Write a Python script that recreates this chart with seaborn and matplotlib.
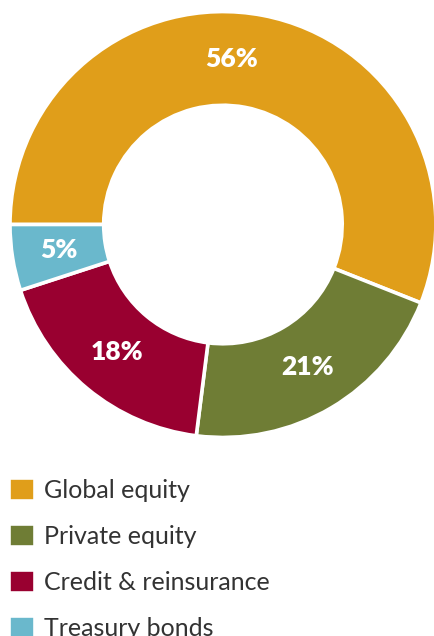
import numpy as np
import matplotlib
matplotlib.use("Agg")
import matplotlib.pyplot as plt
import seaborn as sns

categories = ["Global equity", "Private equity", "Credit & reinsurance", "Treasury bonds"]
shares = [56, 21, 18, 5]
colors = ["#E09E1A", "#6F7D35", "#990030", "#6AB8CC"]

sns.set_theme(style="white")
plt.rcParams["font.family"] = ["Lato", "DejaVu Sans"]

fig = plt.figure(figsize=(4.35, 6.36), dpi=100)
ax = fig.add_axes([0.023, 0.312, 0.979, 0.670])

wedges, texts, autotexts = ax.pie(
    shares,
    colors=sns.color_palette(colors),
    startangle=180,
    counterclock=False,
    radius=1,
    autopct=lambda p: f"{p:.0f}%",
    pctdistance=0.78,
    wedgeprops=dict(width=0.44, edgecolor="white", linewidth=2.6),
    textprops=dict(color="white", fontsize=19, fontweight="heavy"),
)
# the big label sits nearer the top in the original
ang = np.deg2rad(87)
autotexts[0].set_position((0.78 * np.cos(ang), 0.78 * np.sin(ang)))

ax.set_xlim(-1, 1)
ax.set_ylim(-1, 1)
ax.set_aspect("equal")
ax.axis("off")

fig.legend(
    wedges, categories,
    loc="upper left", bbox_to_anchor=(0.0207, 0.249),
    frameon=False, fontsize=18, labelcolor="#333333",
    handlelength=1.05, handleheight=1.05, handletextpad=0.35,
    labelspacing=0.88, borderpad=0, borderaxespad=0,
)

fig.savefig("out.png", dpi=100)
